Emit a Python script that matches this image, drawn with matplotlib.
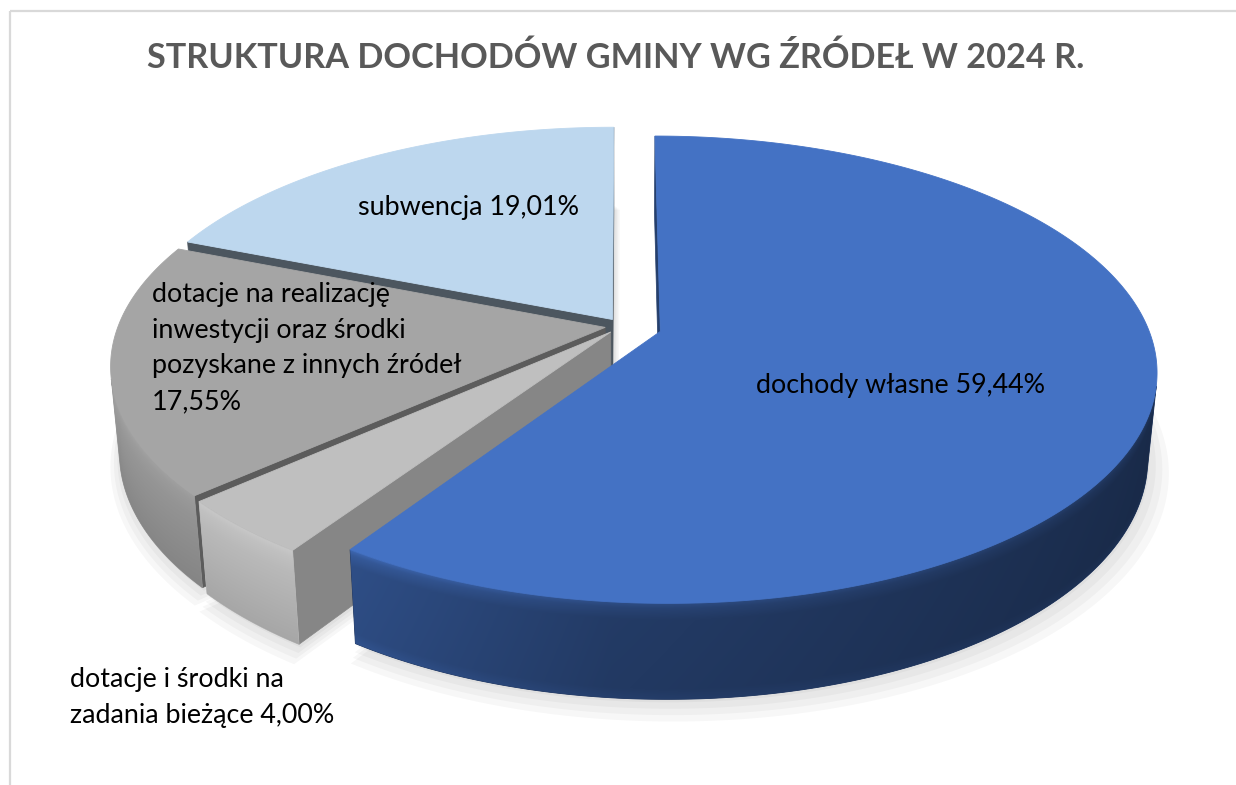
import numpy as np
import matplotlib
matplotlib.use("Agg")
import matplotlib.pyplot as plt
from matplotlib.patches import Polygon, Rectangle
from matplotlib.colors import to_rgb

# ---------------- data ----------------
categories = ["dochody własne",
              "dotacje i środki na zadania bieżące",
              "dotacje na realizację inwestycji oraz środki pozyskane z innych źródeł",
              "subwencja"]
values = [59.44, 4.00, 17.55, 19.01]
value_labels = ["59,44%", "4,00%", "17,55%", "19,01%"]
label_lines = [["dochody własne 59,44%"],
               ["dotacje i środki na", "zadania bieżące 4,00%"],
               ["dotacje na realizację", "inwestycji oraz środki",
                "pozyskane z innych źródeł", "17,55%"],
               ["subwencja 19,01%"]]
title = "STRUKTURA DOCHODÓW GMINY WG ŹRÓDEŁ W 2024 R."

# ---------------- style ----------------
top_colors = ["#4472C4", "#BFBFBF", "#A5A5A5", "#BDD7EE"]
explode = [0.082, 0.035, 0.035, 0.035]
radial_factor = [0.55, 0.70, 0.56, 0.40]
label_pos = [(900, 393, "center"), (70, 687, "left"), (152, 302, "left"), (468, 215, "center")]
line_step = 35.7

W, H = 1236, 785
CX, CY, R = 622, 326, 487
ELEV = np.deg2rad(27.6)
DIST = 5.43
DEPTH = 0.2

fig = plt.figure(figsize=(W / 100, H / 100), dpi=100)
ax = fig.add_axes([0, 0, 1, 1])
ax.set_xlim(0, W)
ax.set_ylim(H, 0)
ax.axis("off")
ax.add_patch(Rectangle((9.5, 10.5), W + 20, H + 20, fill=False, edgecolor="#D9D9D9", lw=1.6))


def proj(X, Y, Z):
    X = np.asarray(X, float); Y = np.asarray(Y, float); Z = np.asarray(Z, float)
    v = Y * np.sin(ELEV) + Z * np.cos(ELEV)
    w = Y * np.cos(ELEV) - Z * np.sin(ELEV)
    f = DIST / (DIST + w)
    return CX + R * X * f, CY - R * v * f, w


CAM = np.array([0.0, -DIST * np.cos(ELEV), DIST * np.sin(ELEV)])


def shade(c, k):
    return tuple(np.clip(np.array(to_rgb(c)) * k, 0, 1))


def mix(c1, c2, a):
    return tuple(np.array(to_rgb(c1)) * (1 - a) + np.array(to_rgb(c2)) * a)


def wall_factor(i, t):
    c = np.cos(t)
    if i == 0:
        return np.interp(c, [-0.6, -0.1, 1.0], [0.70, 0.52, 0.37])
    if i == 1:
        return np.interp(c, [-1.0, 1.0], [0.97, 0.97])
    return np.interp(c, [-1.0, -0.6, 1.0], [0.92, 0.88, 0.8])


def vert_factor(i, rel):
    if i == 0:
        return np.interp(rel, [0, 0.06, 0.18, 0.9, 1.0], [1.35, 1.15, 1.0, 0.97, 1.05])
    return np.interp(rel, [0, 0.08, 0.25, 1.0], [1.08, 1.04, 1.0, 0.9])


fr = np.array(values) / np.sum(values)
cum = np.concatenate([[0], np.cumsum(fr)])
th1 = np.deg2rad(90 - 360 * cum[:-1])
th2 = np.deg2rad(90 - 360 * cum[1:])
mid = (th1 + th2) / 2

faces = []   # (w, kind, payload)
tops = []
shadows = []

for i in range(len(values)):
    ox, oy = explode[i] * np.cos(mid[i]), explode[i] * np.sin(mid[i])
    n = max(8, int(np.rad2deg(th1[i] - th2[i]) * 3))
    t = np.linspace(th2[i], th1[i], n)
    # top face
    X = np.concatenate([[ox], ox + np.cos(t)])
    Y = np.concatenate([[oy], oy + np.sin(t)])
    px, py, _ = proj(X, Y, np.zeros_like(X))
    tops.append((np.column_stack([px, py]), top_colors[i]))
    # shadow footprint
    for s, d in [(1.0, 3), (1.01, 6), (1.02, 9), (1.03, 12)]:
        bx, by, _ = proj(np.concatenate([[ox], ox + s * np.cos(t)]),
                         np.concatenate([[oy], oy + s * np.sin(t)]),
                         np.full(n + 1, -DEPTH))
        shadows.append(np.column_stack([bx + d * 0.5, by + d]))
    # visible part of outer wall
    P = np.column_stack([ox + np.cos(t), oy + np.sin(t), np.full(n, -DEPTH / 2)])
    nrm = np.column_stack([np.cos(t), np.sin(t), np.zeros(n)])
    vis = np.einsum("ij,ij->i", CAM - P, nrm) > 0
    if vis.any():
        idx = np.where(vis)[0]
        tv = t[idx[0]:idx[-1] + 1]
        xt, yt, wt = proj(ox + np.cos(tv), oy + np.sin(tv), np.zeros_like(tv))
        xb, yb, _ = proj(ox + np.cos(tv), oy + np.sin(tv), np.full_like(tv, -DEPTH))
        outline = np.column_stack([np.concatenate([xt, xb[::-1]]),
                                   np.concatenate([yt, yb[::-1]])])
        faces.append((np.mean(wt), "wall", (i, tv, xt, yt, xb, yb, outline)))
    # radial faces
    for th, nrm2 in [(th1[i], np.array([-np.sin(th1[i]), np.cos(th1[i]), 0])),
                     (th2[i], np.array([np.sin(th2[i]), -np.cos(th2[i]), 0]))]:
        Pm = np.array([ox + 0.5 * np.cos(th), oy + 0.5 * np.sin(th), -DEPTH / 2])
        if np.dot(CAM - Pm, nrm2) <= 0:
            continue
        rx = np.array([ox, ox + np.cos(th), ox + np.cos(th), ox])
        ry = np.array([oy, oy + np.sin(th), oy + np.sin(th), oy])
        rz = np.array([0, 0, -DEPTH, -DEPTH])
        qx, qy, qw = proj(rx, ry, rz)
        faces.append((np.mean(qw), "radial",
                      (np.column_stack([qx, qy]), shade(top_colors[i], radial_factor[i]))))

for sp in shadows:
    ax.add_patch(Polygon(sp, closed=True, facecolor="black", edgecolor="none",
                         alpha=0.03, zorder=0.5))

faces.sort(key=lambda f: -f[0])
z = 1.0
for w, kind, pay in faces:
    z += 0.01
    if kind == "radial":
        xy, col = pay
        ax.add_patch(Polygon(xy, closed=True, facecolor=col, edgecolor=col, lw=0.5, zorder=z))
    else:
        i, tv, xt, yt, xb, yb, outline = pay
        base = shade(top_colors[i], float(np.mean(wall_factor(i, tv))))
        poly = Polygon(outline, closed=True, facecolor=base, edgecolor=base, lw=0.6, zorder=z)
        ax.add_patch(poly)
        x0, x1 = outline[:, 0].min(), outline[:, 0].max()
        y0, y1 = outline[:, 1].min(), outline[:, 1].max()
        xs = np.linspace(x0, x1, int(x1 - x0) + 2)
        ys = np.linspace(y0, y1, int(y1 - y0) + 2)
        o = np.argsort(xt)
        fx = np.interp(xs, xt[o], wall_factor(i, tv)[o])
        ytop = np.interp(xs, xt[o], yt[o])
        ob = np.argsort(xb)
        ybot = np.interp(xs, xb[ob], yb[ob])
        rel = np.clip((ys[:, None] - ytop[None, :]) / np.maximum(ybot - ytop, 1)[None, :], 0, 1)
        k = fx[None, :] * vert_factor(i, rel)
        rgb = np.clip(np.array(to_rgb(top_colors[i]))[None, None, :] * k[:, :, None], 0, 1)
        im = ax.imshow(rgb, extent=(x0, x1, y1, y0), origin="upper", aspect="auto",
                       interpolation="bilinear", zorder=z + 0.001)
        im.set_clip_path(poly)
        z += 0.01

for xy, col in tops:
    ax.add_patch(Polygon(xy, closed=True, facecolor=col, edgecolor=col, lw=0.6, zorder=50))

ax.set_xlim(0, W)
ax.set_ylim(H, 0)

# ---------------- text ----------------
FONT = ["Lato", "DejaVu Sans"]
fig.canvas.draw()
renderer = fig.canvas.get_renderer()

tt = ax.text(616, 68, title, ha="center", va="baseline", fontsize=28,
             fontweight="bold", color="#595959", family=FONT, zorder=60)
bb = tt.get_window_extent(renderer)
tt.set_fontsize(28 * 938 / bb.width)

probe = ax.text(0, 0, "zadania bieżące 4,00%", fontsize=18, family=FONT)
pb = probe.get_window_extent(renderer)
label_fs = 18 * 265 / pb.width
probe.remove()

for i, lines in enumerate(label_lines):
    x0, y0, ha = label_pos[i]
    for j, line in enumerate(lines):
        ax.text(x0, y0 + j * line_step, line, ha=ha, va="baseline",
                fontsize=label_fs, color="#000000", family=FONT, zorder=60)

fig.savefig("out.png", dpi=100)
